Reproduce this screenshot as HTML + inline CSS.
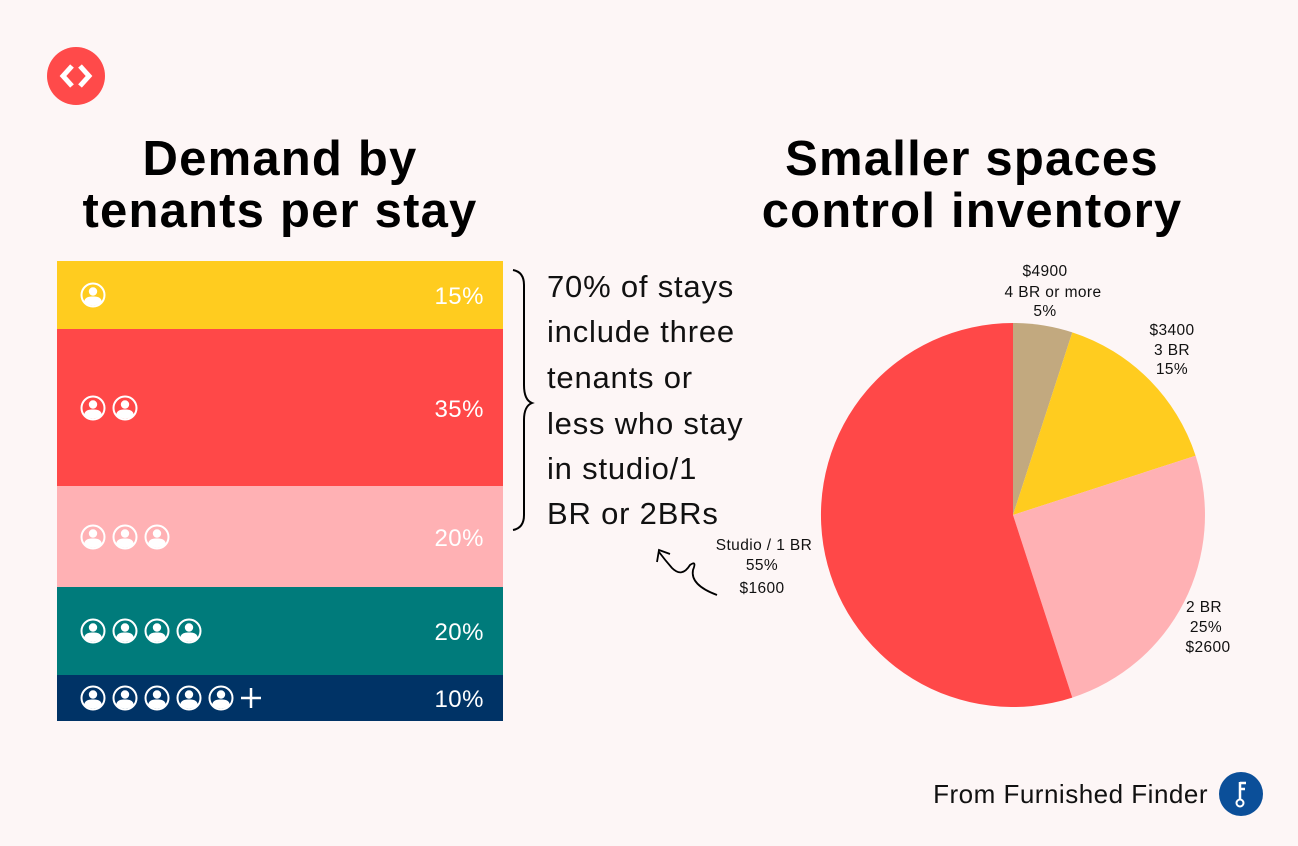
<!DOCTYPE html>
<html><head><meta charset="utf-8"><style>
html,body{margin:0;padding:0;background:#fdf6f6;}
svg{display:block;}
</style></head><body>
<svg width="1298" height="846" viewBox="0 0 1298 846" xmlns="http://www.w3.org/2000/svg" font-family="Liberation Sans, sans-serif">
<defs>
<symbol id="p" viewBox="-13 -13 26 26" overflow="visible">
<circle r="11.5" fill="none" stroke="#fff" stroke-width="2"/>
<circle cx="0" cy="-3.5" r="4.2" fill="#fff"/>
<path d="M-9,7 Q-8,1 0,1.5 Q8,1 9,7 Q5,10.5 0,10.5 Q-5,10.5 -9,7Z" fill="#fff"/>
</symbol>
</defs>
<rect width="1298" height="846" fill="#fdf6f6"/>
<circle cx="76" cy="76" r="29" fill="#ff4a4a"/>
<path d="M72,66 L63,76 L72,86" fill="none" stroke="#fff" stroke-width="5"/>
<path d="M80,66 L89,76 L80,86" fill="none" stroke="#fff" stroke-width="5"/>
<g font-weight="bold" font-size="49" text-anchor="middle" fill="#000" letter-spacing="1.2">
<text x="280" y="175">Demand by</text>
<text x="280" y="227">tenants per stay</text>
<text x="972" y="175">Smaller spaces</text>
<text x="972" y="227">control inventory</text>
</g>
<rect x="57" y="261" width="446" height="68" fill="#ffcc1f"/>
<rect x="57" y="329" width="446" height="157" fill="#ff4848"/>
<rect x="57" y="486" width="446" height="101" fill="#ffb1b4"/>
<rect x="57" y="587" width="446" height="88" fill="#007b7b"/>
<rect x="57" y="675" width="446" height="46" fill="#003366"/>
<use href="#p" x="80" y="282" width="26" height="26"/>
<use href="#p" x="80" y="395" width="26" height="26"/><use href="#p" x="112" y="395" width="26" height="26"/>
<use href="#p" x="80" y="524" width="26" height="26"/><use href="#p" x="112" y="524" width="26" height="26"/><use href="#p" x="144" y="524" width="26" height="26"/>
<use href="#p" x="80" y="618" width="26" height="26"/><use href="#p" x="112" y="618" width="26" height="26"/><use href="#p" x="144" y="618" width="26" height="26"/><use href="#p" x="176" y="618" width="26" height="26"/>
<use href="#p" x="80" y="685" width="26" height="26"/><use href="#p" x="112" y="685" width="26" height="26"/><use href="#p" x="144" y="685" width="26" height="26"/><use href="#p" x="176" y="685" width="26" height="26"/><use href="#p" x="208" y="685" width="26" height="26"/>
<path d="M241,698 H261 M251,688 V708" stroke="#fff" stroke-width="2.5"/>
<g fill="#fff" font-size="24" text-anchor="end" letter-spacing="0.5">
<text x="484" y="304">15%</text>
<text x="484" y="417">35%</text>
<text x="484" y="546">20%</text>
<text x="484" y="640">20%</text>
<text x="484" y="707">10%</text>
</g>
<path d="M513,270 Q524,272 524,285 L524,385 Q524,400 532,403 Q524,406 524,420 L524,515 Q524,528 513,530" fill="none" stroke="#000" stroke-width="2"/>
<g font-size="31" fill="#111" letter-spacing="0.8">
<text x="547" y="297">70% of stays</text>
<text x="547" y="342">include three</text>
<text x="547" y="388">tenants or</text>
<text x="547" y="434">less who stay</text>
<text x="547" y="479">in studio/1</text>
<text x="547" y="524">BR or 2BRs</text>
</g>
<path d="M717,595 Q690,585 693,570 Q697,560 690,565 Q682,578 672,568 Q665,560 659,552" fill="none" stroke="#000" stroke-width="1.8"/>
<path d="M657,562 L659,550 L670,554" fill="none" stroke="#000" stroke-width="1.8"/>
<path d="M1013,515 L1013,323 A192,192 0 0 1 1072.3,332.4Z" fill="#c2a97f"/>
<path d="M1013,515 L1072.3,332.4 A192,192 0 0 1 1195.6,455.7Z" fill="#ffcc1f"/>
<path d="M1013,515 L1195.6,455.7 A192,192 0 0 1 1072.3,697.6Z" fill="#ffb1b4"/>
<path d="M1013,515 L1072.3,697.6 A192,192 0 1 1 1013,323Z" fill="#ff4848"/>
<g font-size="15.5" fill="#111" text-anchor="middle" letter-spacing="0.4">
<text x="1045" y="276">$4900</text><text x="1053" y="297">4 BR or more</text><text x="1045" y="316">5%</text>
<text x="1172" y="335">$3400</text><text x="1172" y="355">3 BR</text><text x="1172" y="374">15%</text>
<text x="764" y="550">Studio / 1 BR</text><text x="762" y="570">55%</text><text x="762" y="593">$1600</text>
<text x="1204" y="612">2 BR</text><text x="1206" y="632">25%</text><text x="1208" y="652">$2600</text>
</g>
<text x="1208" y="803" font-size="26" fill="#111" text-anchor="end" letter-spacing="0.5">From Furnished Finder</text>
<circle cx="1241" cy="794" r="22" fill="#0b4f99"/>
<path d="M1240,782 V799 M1240,783 H1246 M1240,789 H1245" stroke="#fff" stroke-width="2.5" fill="none"/>
<circle cx="1240" cy="803" r="3.5" fill="none" stroke="#fff" stroke-width="2"/>
</svg>
</body></html>
